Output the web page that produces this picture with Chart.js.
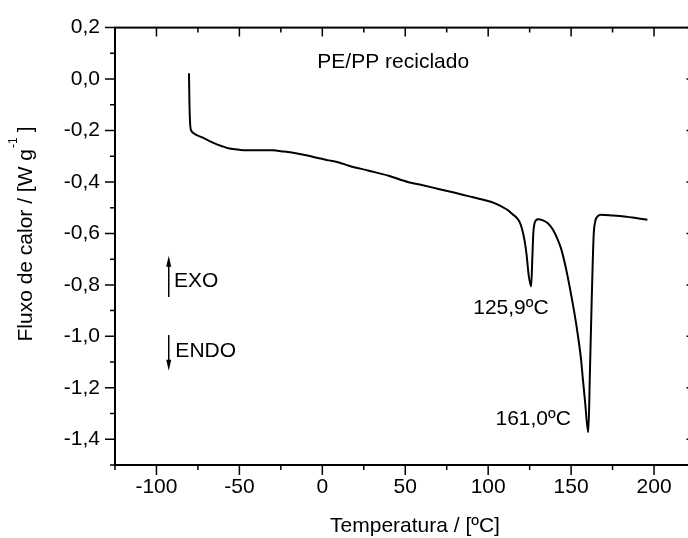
<!DOCTYPE html>
<html>
<head>
<meta charset="utf-8">
<script src="https://cdn.jsdelivr.net/npm/chart.js@4"></script>
<style>
  html, body { margin: 0; padding: 0; overflow: hidden; background: #fff; }
  canvas { display: block; }
</style>
</head>
<body>
<canvas id="dscChart" width="700" height="538"></canvas>
<script>
// DSC curve, PE/PP reciclado
const temperatura = [
  -80.4, -80.1, -79.6, -78.8, -78.0, -72, -66, -60, -56, -50,
  -46, -38, -30, -23, -16, -9, -2, 4, 10, 16,
  28, 40, 52, 60, 70, 80, 88, 95, 102, 108,
  112, 114, 117, 119, 120.5, 122, 123.2, 124.4, 125.9, 126.6,
  127.2, 127.9, 128.8, 130, 133, 136, 139, 142, 144, 146,
  148, 150, 152, 154, 156, 157, 158.5, 159.6, 160.4, 161.3,
  162.4, 163.6, 164.5, 165.6, 168, 175, 182, 190, 196
];
const fluxo = [
  0.023, -0.10, -0.183, -0.203, -0.209, -0.228, -0.247, -0.262, -0.270, -0.275,
  -0.277, -0.277, -0.277, -0.282, -0.288, -0.297, -0.308, -0.316, -0.324, -0.337,
  -0.356, -0.376, -0.401, -0.412, -0.427, -0.442, -0.455, -0.466, -0.478, -0.495,
  -0.510, -0.522, -0.538, -0.556, -0.585, -0.630, -0.685, -0.761, -0.806, -0.70,
  -0.60, -0.562, -0.549, -0.545, -0.549, -0.560, -0.585, -0.625, -0.660, -0.710,
  -0.770, -0.838, -0.910, -0.992, -1.090, -1.160, -1.260, -1.340, -1.372, -1.150,
  -0.864, -0.607, -0.555, -0.536, -0.527, -0.530, -0.534, -0.541, -0.547
];

const xTicks = [-100, -50, 0, 50, 100, 150, 200];
const xTickLabels = ['-100', '-50', '0', '50', '100', '150', '200'];
const xMinorTicks = [-125, -75, -25, 25, 75, 125, 175, 225];
const yTicks = [0.2, 0.0, -0.2, -0.4, -0.6, -0.8, -1.0, -1.2, -1.4];
const yTickLabels = ['0,2', '0,0', '-0,2', '-0,4', '-0,6', '-0,8', '-1,0', '-1,2', '-1,4'];
const yMinorTicks = [0.1, -0.1, -0.3, -0.5, -0.7, -0.9, -1.1, -1.3, -1.5];

const FONT = '"Liberation Sans", Arial, sans-serif';

document.addEventListener('DOMContentLoaded', () => {
  const ctx = document.getElementById('dscChart').getContext('2d');

  // texts placed at data coordinates
  const notes = [
    { text: 'PE/PP reciclado', x: -3, y: 0.042 },
    { text: '125,9ºC', x: 91, y: -0.915 },
    { text: '161,0ºC', x: 104.4, y: -1.346 },
    { text: 'EXO', x: -89.4, y: -0.809 },
    { text: 'ENDO', x: -88.6, y: -1.079 }
  ];
  const arrows = [
    { x: -92.6, from: -0.847, to: -0.687 },
    { x: -92.6, from: -0.995, to: -1.134 }
  ];

  const framePlugin = {
    id: 'frame',
    afterDraw(chart) {
      const { ctx, chartArea: a, scales: { x, y } } = chart;
      ctx.save();
      ctx.strokeStyle = '#000';
      ctx.fillStyle = '#000';

      // frame
      ctx.lineWidth = 2;
      ctx.strokeRect(a.left, a.top, a.right - a.left, a.bottom - a.top);

      // ticks
      ctx.lineWidth = 1.5;
      ctx.beginPath();
      const tickX = (v, major) => {
        const px = x.getPixelForValue(v);
        const len = major ? 10 : 5;
        ctx.moveTo(px, a.bottom); ctx.lineTo(px, a.bottom + len);
        ctx.moveTo(px, a.top); ctx.lineTo(px, a.top + (major ? 9 : 5));
      };
      const tickY = (v, major) => {
        const py = y.getPixelForValue(v);
        const len = major ? 10 : 5;
        ctx.moveTo(a.left, py); ctx.lineTo(a.left - len, py);
        ctx.moveTo(a.right, py); ctx.lineTo(a.right - (major ? 9 : 5), py);
      };
      xTicks.forEach(v => tickX(v, true));
      xMinorTicks.forEach(v => tickX(v, false));
      yTicks.forEach(v => tickY(v, true));
      yMinorTicks.forEach(v => tickY(v, false));
      ctx.stroke();

      // notes
      ctx.font = '21px ' + FONT;
      ctx.textAlign = 'left';
      ctx.textBaseline = 'alphabetic';
      notes.forEach(n => {
        ctx.fillText(n.text, x.getPixelForValue(n.x), y.getPixelForValue(n.y));
      });

      // EXO / ENDO arrows
      ctx.lineWidth = 1.5;
      arrows.forEach(ar => {
        const px = x.getPixelForValue(ar.x);
        const p0 = y.getPixelForValue(ar.from);
        const p1 = y.getPixelForValue(ar.to);
        const dir = p1 < p0 ? 1 : -1;
        ctx.beginPath();
        ctx.moveTo(px, p0);
        ctx.lineTo(px, p1 + dir * 8);
        ctx.stroke();
        ctx.beginPath();
        ctx.moveTo(px, p1);
        ctx.lineTo(px - 2.5, p1 + dir * 11);
        ctx.lineTo(px + 2.5, p1 + dir * 11);
        ctx.closePath();
        ctx.fill();
      });

      // axis titles
      ctx.font = '21px ' + FONT;
      ctx.textAlign = 'center';
      ctx.fillText('Temperatura / [ºC]', 415, 532);

      ctx.save();
      ctx.translate(32, 234);
      ctx.rotate(-Math.PI / 2);
      const p1 = 'Fluxo de calor / [W g';
      const sup = '-1';
      const p2 = ']';
      ctx.font = '21px ' + FONT;
      const w1 = ctx.measureText(p1).width;
      const w3 = ctx.measureText(p2).width;
      ctx.font = '12px ' + FONT;
      const w2 = ctx.measureText(sup).width;
      const total = w1 + w2 + 6 + w3;
      let cx = -total / 2;
      ctx.textAlign = 'left';
      ctx.font = '21px ' + FONT;
      ctx.fillText(p1, cx, 0);
      cx += w1 + 1;
      ctx.font = '12px ' + FONT;
      ctx.fillText(sup, cx, -15);
      cx += w2 + 5;
      ctx.font = '21px ' + FONT;
      ctx.fillText(p2, cx, 0);
      ctx.restore();

      ctx.restore();
    }
  };

  const dscChart = new Chart(ctx, {
    type: 'scatter',
    data: {
      datasets: [{
        label: 'PE/PP reciclado',
        data: temperatura.map((t, i) => ({ x: t, y: fluxo[i] })),
        showLine: true,
        borderColor: '#000',
        borderWidth: 2,
        pointRadius: 0,
        fill: false,
        cubicInterpolationMode: 'monotone'
      }]
    },
    options: {
      responsive: false,
      animation: false,
      devicePixelRatio: 1,
      layout: { padding: { top: 24, right: 4.5, left: 0, bottom: 0 } },
      plugins: {
        legend: { display: false },
        tooltip: { enabled: false }
      },
      scales: {
        x: {
          type: 'linear',
          min: -125,
          max: 225,
          afterBuildTicks: s => { s.ticks = xTicks.map(v => ({ value: v })); },
          afterFit: s => { s.height = 73; },
          grid: { display: false, drawTicks: false },
          border: { display: false },
          ticks: {
            color: '#000',
            font: { family: FONT, size: 21 },
            padding: 10,
            maxRotation: 0,
            autoSkip: false,
            callback: (v, i) => xTickLabels[i]
          }
        },
        y: {
          type: 'linear',
          min: -1.5,
          max: 0.2,
          afterBuildTicks: s => { s.ticks = yTicks.map(v => ({ value: v })); },
          afterFit: s => { s.width = 115; },
          grid: { display: false, drawTicks: false },
          border: { display: false },
          ticks: {
            color: '#000',
            font: { family: FONT, size: 21 },
            padding: 15,
            autoSkip: false,
            callback: (v, i) => yTickLabels[i]
          }
        }
      }
    },
    plugins: [framePlugin]
  });
});
</script>
</body>
</html>
